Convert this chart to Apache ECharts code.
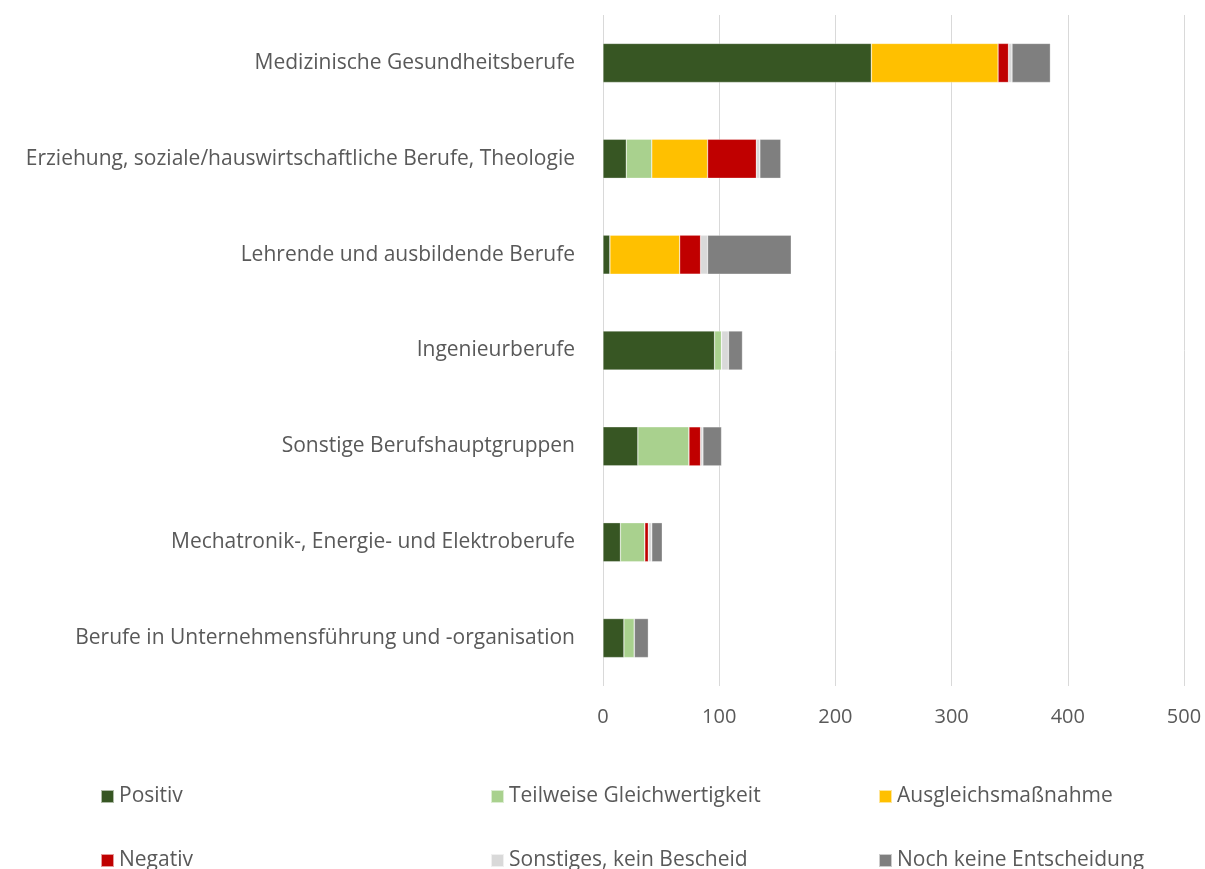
<!DOCTYPE html>
<html lang="de">
<head>
<meta charset="utf-8">
<title>Berufe</title>
<script src="https://cdn.jsdelivr.net/npm/echarts@6/dist/echarts.min.js"></script>
<style>
  html, body { margin: 0; padding: 0; background: #fff; }
  #main { width: 1205px; height: 869px; }
</style>
</head>
<body>
<div id="main"></div>
<script type="text/javascript">
// categories, top to bottom
let categories = [
  'Medizinische Gesundheitsberufe',
  'Erziehung, soziale/hauswirtschaftliche Berufe, Theologie',
  'Lehrende und ausbildende Berufe',
  'Ingenieurberufe',
  'Sonstige Berufshauptgruppen',
  'Mechatronik-, Energie- und Elektroberufe',
  'Berufe in Unternehmensführung und -organisation'
];

// series values (same order as categories)
let positiv      = [231, 20,  6, 96, 30, 15, 18];
let teilweise    = [  0, 22,  0,  6, 44, 21,  9];
let ausgleich    = [109, 48, 60,  0,  0,  0,  0];
let negativ      = [  9, 42, 18,  0, 10,  3,  0];
let sonstiges    = [  3,  3,  6,  6,  2,  3,  0];
let nochKeine    = [ 33, 18, 72, 12, 16,  9, 12];

let seriesNames = ['Positiv', 'Teilweise Gleichwertigkeit', 'Ausgleichsmaßnahme',
                   'Negativ', 'Sonstiges, kein Bescheid', 'Noch keine Entscheidung'];
let seriesData = [positiv, teilweise, ausgleich, negativ, sonstiges, nochKeine];
let colors = ['#375623', '#A9D18E', '#FFC000', '#C00000', '#D9D9D9', '#7F7F7F'];

// legend positions (3 columns, 2 rows)
let legendPos = [
  { left: 95,  top: 781 }, { left: 485, top: 781 }, { left: 873, top: 781 },
  { left: 95,  top: 845 }, { left: 485, top: 845 }, { left: 873, top: 845 }
];

let font = '"Open Sans", "Liberation Sans", sans-serif';

let series = [];
seriesNames.forEach((name, i) => {
  series.push({
    name: name,
    type: 'bar',
    stack: 'total',
    barWidth: 39,
    data: seriesData[i],
    itemStyle: { color: colors[i], borderColor: 'rgba(255,255,255,0.6)', borderWidth: 0.5 },
    emphasis: { disabled: true }
  });
});

let legends = [];
seriesNames.forEach((name, i) => {
  legends.push({
    data: [name],
    left: legendPos[i].left,
    top: legendPos[i].top,
    icon: 'rect',
    itemWidth: 13,
    itemHeight: 13,
    itemGap: 6,
    textStyle: { fontFamily: font, fontSize: 21, color: '#595959' },
    selectedMode: false
  });
});

let Chart = echarts.init(document.getElementById('main'), null, { renderer: 'canvas' });

let option = {
  animation: false,
  color: colors,
  legend: legends,
  grid: { left: 603, right: 21, top: 15, bottom: 183, containLabel: false },
  xAxis: {
    type: 'value',
    min: 0,
    max: 500,
    interval: 100,
    axisLine: { show: false },
    axisTick: { show: false },
    axisLabel: { fontFamily: font, fontSize: 20, color: '#595959', margin: 21 },
    splitLine: { lineStyle: { color: '#D9D9D9', width: 1 } }
  },
  yAxis: {
    type: 'category',
    inverse: true,
    data: categories,
    axisLine: { show: false },
    axisTick: { show: false },
    axisLabel: { fontFamily: font, fontSize: 21, color: '#595959', margin: 28 }
  },
  series: series
};

Chart.setOption(option);
</script>
</body>
</html>
